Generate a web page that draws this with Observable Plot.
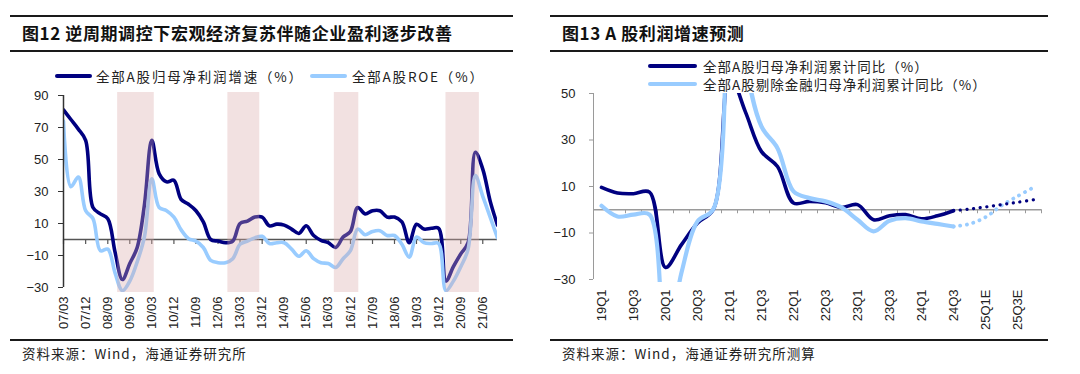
<!DOCTYPE html>
<html><head><meta charset="utf-8">
<script src="https://cdn.jsdelivr.net/npm/d3@7"></script>
<script src="https://cdn.jsdelivr.net/npm/@observablehq/plot@0.6"></script>
<style>
body{margin:0;background:#fff;}
#page{position:relative;width:1080px;height:374px;overflow:hidden;font-family:"Noto Sans CJK SC","Liberation Sans",sans-serif;color:#1a1a1a;background:#fff;}
.rule{position:absolute;background:#1a1a1a;height:2px;}
.title{position:absolute;font-weight:bold;font-size:17px;letter-spacing:0.6px;line-height:20px;white-space:nowrap;color:#111;}
.src{position:absolute;font-size:13.5px;letter-spacing:1px;line-height:16px;white-space:nowrap;color:#222;}
.leg{position:absolute;font-size:13.5px;letter-spacing:1px;line-height:16px;white-space:nowrap;color:#222;}
.sw{position:absolute;height:4px;border-radius:2px;}
.chart{position:absolute;}
</style></head><body><div id="page">
<div class="rule" style="left:10px;top:15px;width:503px"></div>
<div class="title" id="t1" style="left:22px;top:23px"></div>
<div class="rule" style="left:10px;top:50px;width:503px"></div>
<div class="sw" style="left:55px;top:74px;width:37px;background:#000080"></div>
<div class="leg" id="l1a" style="left:96px;top:68px;letter-spacing:1.8px"></div>
<div class="sw" style="left:310px;top:74px;width:37px;background:#99ccff"></div>
<div class="leg" id="l1b" style="left:352px;top:68px;letter-spacing:1.8px"></div>
<div class="chart" id="c1" style="left:0px;top:86px"></div>
<div class="rule" style="left:10px;top:339px;width:503px"></div>
<div class="src" id="s1" style="left:22px;top:345px"></div>

<div class="rule" style="left:550px;top:15px;width:498px"></div>
<div class="title" id="t2" style="left:562px;top:23px"></div>
<div class="rule" style="left:550px;top:50px;width:498px"></div>
<div class="sw" style="left:648px;top:64px;width:49px;background:#000080"></div>
<div class="leg" id="l2a" style="left:703px;top:58px"></div>
<div class="sw" style="left:648px;top:82px;width:49px;background:#99ccff"></div>
<div class="leg" id="l2b" style="left:703px;top:76px"></div>
<div class="chart" id="c2" style="left:540px;top:86px"></div>
<div class="rule" style="left:550px;top:339px;width:498px"></div>
<div class="src" id="s2" style="left:562px;top:345px"></div>
</div>
<script>
// ---------- texts ----------
const title1 = "图12 逆周期调控下宏观经济复苏伴随企业盈利逐步改善";
const title2 = "图13 A 股利润增速预测";
const legend1 = ["全部A股归母净利润增速（%）", "全部A股ROE（%）"];
const legend2 = ["全部A股归母净利润累计同比（%）", "全部A股剔除金融归母净利润累计同比（%）"];
const source1 = "资料来源：Wind，海通证券研究所";
const source2 = "资料来源：Wind，海通证券研究所测算";

// ---------- left chart data (quarterly, 07/03 .. 21/12) ----------
const leftStart = "07/03";
const leftEnd = "21/12";
const leftProfitGrowth = [81, 75, 69, 62, 20, 16, 13, -8, -25, -15, -5, 22, 62, 41, 36, 37,
  25, 22, 18, 11, 0, -1, -2, -1, 10, 11.5, 14, 14, 8.5, 9.6, 9, 6.5, 3.8, 8.6, 2.5, -0.5,
  -2, -5, 1.5, 5, 20, 16, 18, 18, 14, 14, 11, -2, 9.5, 6.5, 7, 7, -26, -17, -9, -2, 54.5, 44, 24, 9];
const leftROE = [74, 33, 39, 18, 13, -7, -6, -21, -32, -26, -14, 2, 38, 20, 18, 14,
  6, 0.5, -1, -5, -13, -14.5, -14.5, -12, -3, -1, 1, 2, -2.5, -2, -2, -6, -10.5, -7, -12, -14.5,
  -15, -17.5, -12, -7, 6.5, 3, 5, 5.5, 2.5, 2.5, -3, -11, 1.5, -2, -2.5, -2.5, -32, -26, -17, -6, 40, 27, 14, 1];
const leftTickLabels = ["07/03","07/12","08/09","09/06","10/03","10/12","11/09","12/06","13/03","13/12",
  "14/09","15/06","16/03","16/12","17/09","18/06","19/03","19/12","20/09","21/06"];
const leftYTicks = [90, 70, 50, 30, 10, -10, -30];
const leftYDomain = [-30, 90];
const recoveryStarts = ["2009-01-01", "2012-10-01", "2016-05-15", "2020-03-01"];
const recoveryEnds   = ["2010-04-01", "2013-11-01", "2017-03-15", "2021-04-20"];

// ---------- right chart data ----------
const rightQuarters = ["19Q1","19Q2","19Q3","19Q4","20Q1","20Q2","20Q3","20Q4","21Q1","21Q2","21Q3","21Q4",
  "22Q1","22Q2","22Q3","22Q4","23Q1","23Q2","23Q3","23Q4","24Q1","24Q2","24Q3","24Q4E","25Q1E","25Q2E","25Q3E","25Q4E"];
const rightTickLabels = ["19Q1","19Q3","20Q1","20Q3","21Q1","21Q3","22Q1","22Q3","23Q1","23Q3","24Q1","24Q3","25Q1E","25Q3E"];
const allActual = [9.6, 7.2, 6.9, 7.6, -24.8, -15, -5.7, 0.3, 58, 42, 25, 18.6, 2.9, 3.6, 3.0, 1.0, 2.2, -4.3, -2.6, -2.1, -3.9, -2.6, -0.4];
const exFinActual = [1.7, -2.9, -2.1, -2.1, -60, -27, -5, 0.4, 140, 64, 35.8, 26.5, 7.9, 5, 3.6, 1, -4.3, -9.3, -4.7, -3.6, -5, -6.1, -7.2];
const forecastQuarters = ["24Q3","24Q4E","25Q1E","25Q2E","25Q3E","25Q4E"];
const allForecast = [-0.4, 0.3, 1.2, 2.2, 3.2, 4.3];
const exFinForecast = [-7.2, -6.1, -3.2, 1.8, 5.8, 9.6];
const rightYTicks = [50, 30, 10, -10, -30];
const rightYDomain = [-30, 50];

// ---------- colors ----------
const navy = "#000080";
const sky = "#99ccff";

document.getElementById("t1").textContent = title1;
document.getElementById("t2").textContent = title2;
document.getElementById("l1a").textContent = legend1[0];
document.getElementById("l1b").textContent = legend1[1];
document.getElementById("l2a").textContent = legend2[0];
document.getElementById("l2b").textContent = legend2[1];
document.getElementById("s1").textContent = source1;
document.getElementById("s2").textContent = source2;

const parseYM = d3.utcParse("%y/%m");
const d0 = parseYM(leftStart), d1 = parseYM(leftEnd);
const leftDates = d3.utcMonth.range(d0, d3.utcMonth.offset(d1, 1), 3);
const leftRows = leftDates.map((date, i) => ({date, profit: leftProfitGrowth[i], roe: leftROE[i]}));
const leftTicks = leftTickLabels.map(parseYM);
const periods = recoveryStarts.map((s, i) => ({start: new Date(s), end: new Date(recoveryEnds[i])}));

const axisStyle = {fontFamily: "'Liberation Sans', Arial, sans-serif", fontSize: "13px", color: "#222", background: "transparent"};

const left = Plot.plot({
  width: 520, height: 250,
  marginTop: 6, marginBottom: 44, marginLeft: 63, marginRight: 23,
  style: axisStyle,
  x: {type: "utc", domain: [d0, d1], label: null},
  y: {domain: leftYDomain, insetTop: 3, insetBottom: 5, label: null},
  marks: [
    Plot.ruleY([0], {stroke: "#555", strokeWidth: 1.5}),
    Plot.ruleX(leftTicks, {x: d => d, y1: 0, y2: 0, insetBottom: -5, stroke: "#555", strokeWidth: 1.2}),
    Plot.line(leftRows, {x: "date", y: "profit", curve: "catmull-rom", stroke: navy, strokeWidth: 3.6, clip: true}),
    Plot.line(leftRows, {x: "date", y: "roe", curve: "catmull-rom", stroke: sky, strokeWidth: 3.6, clip: true}),
    Plot.rect(periods, {x1: "start", x2: "end", fill: "#d9a9a9", fillOpacity: 0.35}),
    Plot.ruleX([d0], {y1: leftYDomain[0], y2: leftYDomain[1], stroke: "#333", strokeWidth: 1.5}),
    Plot.axisY({ticks: leftYTicks, tickSize: 5, tickPadding: 10, stroke: "#333", label: null}),
    Plot.axisX({ticks: leftTicks, tickFormat: d3.utcFormat("%y/%m"), tickRotate: -90, tickSize: 0, tickPadding: 4, label: null})
  ]
});
document.getElementById("c1").append(left);

const idx = q => rightQuarters.indexOf(q);
const actualRows = allActual.map((v, i) => ({i, all: v, exfin: exFinActual[i]}));
const fcRows = forecastQuarters.map((q, j) => ({i: idx(q), all: allForecast[j], exfin: exFinForecast[j]}));
const bounds = d3.range(rightQuarters.length + 1).map(k => k - 0.5);

const right = Plot.plot({
  width: 540, height: 252,
  marginTop: 7, marginBottom: 56, marginLeft: 53, marginRight: 39,
  style: axisStyle,
  x: {domain: [-0.5, rightQuarters.length - 0.5], label: null},
  y: {domain: rightYDomain, insetBottom: 3, label: null},
  marks: [
    Plot.ruleY([0], {stroke: "#9a9a9a", strokeWidth: 1.5}),
    Plot.ruleX(bounds, {x: d => d, y1: 0, y2: 0, insetBottom: -4, stroke: "#9a9a9a", strokeWidth: 1}),
    Plot.ruleX([-0.5], {y1: rightYDomain[0], y2: rightYDomain[1], stroke: "#9a9a9a", strokeWidth: 1}),
    Plot.line(actualRows, {x: "i", y: "all", curve: "catmull-rom", stroke: navy, strokeWidth: 3.6, clip: true}),
    Plot.line(actualRows, {x: "i", y: "exfin", curve: "catmull-rom", stroke: sky, strokeWidth: 4.2, clip: true}),
    Plot.line(fcRows, {x: "i", y: "exfin", curve: "catmull-rom", stroke: sky, strokeWidth: 3.8, strokeDasharray: "0.1 6.6", strokeLinecap: "round", clip: true}),
    Plot.line(fcRows, {x: "i", y: "all", curve: "catmull-rom", stroke: navy, strokeWidth: 3.2, strokeDasharray: "0.1 6.6", strokeLinecap: "round", clip: true}),
    Plot.axisY({ticks: rightYTicks, tickSize: 4, tickPadding: 14, stroke: "#9a9a9a", label: null}),
    Plot.axisX({ticks: rightTickLabels.map(idx), tickFormat: i => rightQuarters[i], tickRotate: -90, tickSize: 0, tickPadding: 7, label: null})
  ]
});
document.getElementById("c2").append(right);
</script>
</body></html>
